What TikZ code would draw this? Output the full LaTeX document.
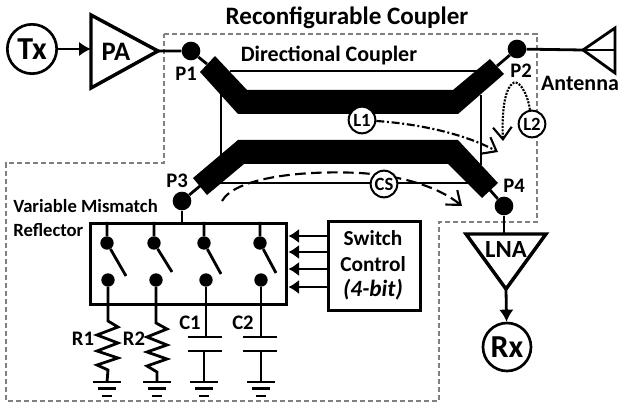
\documentclass[tikz,border=0pt]{standalone}
\usepackage{fontspec}
\setmainfont{Carlito}
\usetikzlibrary{arrows.meta}
\begin{document}
\begin{tikzpicture}[
    x=0.75pt, y=-0.75pt,
    wire/.style={line width=2.1pt},
    sig/.style={wire, -{Latex[length=9pt,width=11pt]}},
    ctrl/.style={wire, -{Latex[length=8pt,width=11pt]}},
    frame/.style={draw=gray, line width=1pt, dash pattern=on 4pt off 2pt},
    box/.style={draw, line width=2.6pt},
    trace/.style={fill=black},
    port/.style={circle, fill=black, inner sep=0pt, minimum size=14pt},
    pin/.style={circle, fill=black, inner sep=0pt, minimum size=10pt},
    term/.style={circle, draw, line width=2pt, fill=white, inner sep=0pt, minimum size=37pt, font=\fontsize{24}{26}\selectfont\bfseries},
    loss/.style={circle, draw, line width=1.5pt, fill=white, inner sep=0pt, minimum size=20pt, font=\fontsize{14}{15}\selectfont\bfseries},
    lbl/.style={inner sep=0pt, font=\fontsize{15.5}{17}\selectfont\bfseries},
    pass/.style={-{Straight Barb[length=9pt,width=14pt]}, line width=1.6pt},
    gnd/.pic={
        \draw[wire] (-14,0) -- (14,0);
        \draw[wire] (-9,6.5) -- (9,6.5);
        \draw[wire] (-5,14) -- (5,14);
    },
]
\useasboundingbox (0,0) rectangle (619,403);
\draw[frame] (164,34) -- (537,34) -- (537,222) -- (439,222) -- (439,401) -- (6,401) -- (6,163) -- (164,163) -- cycle;

\node[lbl, font=\fontsize{18.8}{20}\selectfont\bfseries] (title) at (347,18) {Reconfigurable Coupler};
\node[lbl, font=\fontsize{16.5}{18}\selectfont\bfseries] (dc) at (329,55) {Directional Coupler};

\node[term] (tx) at (32,49) {Tx};
\node[term, minimum size=36pt] (rx) at (507,347) {Rx};
\coordinate (pain) at (91,49);
\coordinate (paout) at (158,51);
\coordinate (lnaout) at (506,289);
\draw[box] (pain |- 0,15) -- (paout) -- (pain |- 0,88) -- cycle;
\draw[box] (466,234) -- (546,234) -- (lnaout) -- cycle;
\node[lbl, font=\fontsize{20}{22}\selectfont\bfseries] (pa) at (116,52) {PA};
\node[lbl, font=\fontsize{18.5}{20}\selectfont\bfseries] (lna) at (506,250) {LNA};
\draw[sig] (tx) -- (pain);
\draw[sig] (lnaout) -- (rx);

\draw[wire] (221,90) -- (221,165);
\draw[wire] (230,71) -- (490,71);
\draw[wire] (481,95) -- (481,165);
\draw[wire] (220,183) -- (470,183);

\node[port] (p1) at (191,51) {};
\node[port] (p2) at (517,49) {};
\node[port] (p3) at (182,201) {};
\node[port] (p4) at (504,206) {};
\coordinate (ant) at (583,50);
\coordinate (lnain) at (504,234);
\coordinate (pad1) at (207,64);
\coordinate (pad2) at (497,66);
\coordinate (pad3) at (200,186);
\coordinate (pad4) at (490,190);
\draw[wire] (paout) -- (p1) -- (pad1);
\draw[wire] (p2) -- (pad2);
\draw[wire] (p2) -- (ant);
\draw[wire] (p3) -- (pad3);
\draw[wire] (p4) -- (pad4);
\draw[wire] (p4) -- (lnain);
\draw[wire] (ant) -- (615,28) -- (615,73) -- cycle;
\draw[wire] (ant) -- (615,50);

\fill[trace] (215,56) -- (200,72) -- (238,114) -- (458,114) -- (504,74) -- (490,59) -- (453,90) -- (247,90) -- cycle;
\fill[trace] (238,140) -- (193,178) -- (207,195) -- (244,164) -- (448,164) -- (482,198) -- (498,183) -- (458,140) -- cycle;

\node[lbl] (lp1) at (186,74) {P1};
\node[lbl] (lp2) at (521,71) {P2};
\node[lbl] (lp3) at (177,181) {P3};
\node[lbl] (lp4) at (514,186) {P4};
\node[lbl, font=\fontsize{16.5}{18}\selectfont\bfseries] (lant) at (580,83) {Antenna};

\node[loss] (l1) at (362,120) {L1};
\node[loss] (l2) at (532,124) {L2};
\coordinate (l1end) at (498,152);
\coordinate (l2end) at (503,141);
\coordinate (csstart) at (222,201);
\coordinate (csend) at (462,206);
\draw[pass, dash pattern=on 6pt off 2pt on 1.5pt off 2pt] (l1) .. controls (420,124) and (465,134) .. (l1end);
\draw[pass, dash pattern=on 1.5pt off 1pt] (l2) .. controls (527,90) and (517,78) .. (512,84) .. controls (503,92) and (502,120) .. (l2end);
\draw[pass, dash pattern=on 8pt off 4pt] (csstart) .. controls (235,178) and (300,170) .. (360,173) .. controls (405,176) and (440,188) .. (csend);
\node[loss] (cs) at (384,184) {CS};

\node[box, inner sep=0pt, anchor=north west, minimum width=147pt, minimum height=60.5pt] (refl) at (89,222) {};
\node[lbl, font=\fontsize{14}{16}\selectfont\bfseries, anchor=west] (lvar) at (13,206) {Variable Mismatch};
\node[lbl, font=\fontsize{14}{16}\selectfont\bfseries, anchor=west] (lref) at (13,230) {Reflector};
\draw[wire] (p3) -- (p3 |- refl.north);

\node[pin] (s1a) at (107,243) {};
\node[pin] (s2a) at (154,243) {};
\node[pin] (s3a) at (204,243) {};
\node[pin] (s4a) at (260,243) {};
\node[pin] (s1b) at (108,280) {};
\node[pin] (s2b) at (156,280) {};
\node[pin] (s3b) at (206,280) {};
\node[pin] (s4b) at (261,280) {};
\coordinate (s1c) at (126,276);
\coordinate (s2c) at (172,272);
\coordinate (s3c) at (221,274);
\coordinate (s4c) at (276,273);
\draw[wire] (s1a |- refl.north) -- (s1a) -- (s1c);
\draw[wire] (s2a |- refl.north) -- (s2a) -- (s2c);
\draw[wire] (s3a |- refl.north) -- (s3a) -- (s3c);
\draw[wire] (s4a |- refl.north) -- (s4a) -- (s4c);

\coordinate (g1) at (107,382);
\coordinate (g2) at (157,382);
\coordinate (g3) at (204,382);
\coordinate (g4) at (261,382);
\draw[wire] (s1b) -- (108,321) -- (118,327) -- (97,335) -- (118,343) -- (97,351) -- (118,358) -- (97,365) -- (108,370) -- (g1);
\draw[wire] (s2b) -- (156,323) -- (167,329) -- (147,337) -- (167,345) -- (147,352) -- (167,359) -- (147,366) -- (157,372) -- (g2);
\draw[wire] (s3b) -- (s3b |- 0,337);
\draw[wire] (188,337) -- (222,337);
\draw[wire] (188,351) -- (222,351);
\draw[wire] (g3 |- 0,351) -- (g3);
\draw[wire] (s4b) -- (s4b |- 0,337);
\draw[wire] (243,337) -- (277,337);
\draw[wire] (243,351) -- (277,351);
\draw[wire] (g4 |- 0,351) -- (g4);
\pic at (g1) {gnd};
\pic at (g2) {gnd};
\pic at (g3) {gnd};
\pic at (g4) {gnd};

\node[lbl] (lr1) at (83,339) {R1};
\node[lbl] (lr2) at (134,339) {R2};
\node[lbl] (lc1) at (190,323) {C1};
\node[lbl] (lc2) at (243,323) {C2};

\node[box, inner sep=0pt, anchor=north west, minimum width=69pt, minimum height=66.5pt] (sw) at (327,220) {};
\node[lbl, font=\fontsize{16}{18}\selectfont\bfseries] (tsw) at (373,238) {Switch};
\node[lbl, font=\fontsize{16}{18}\selectfont\bfseries] (tct) at (373,264) {Control};
\node[lbl, font=\fontsize{17.5}{19}\selectfont\bfseries\itshape] (tbit) at (373,290) {(4-bit)};
\coordinate (c1) at (327,236);
\coordinate (c2) at (327,252);
\coordinate (c3) at (327,269);
\coordinate (c4) at (327,287);
\draw[ctrl] (c1) -- (c1 -| refl.east);
\draw[ctrl] (c2) -- (c2 -| refl.east);
\draw[ctrl] (c3) -- (c3 -| refl.east);
\draw[ctrl] (c4) -- (c4 -| refl.east);
\end{tikzpicture}
\end{document}
